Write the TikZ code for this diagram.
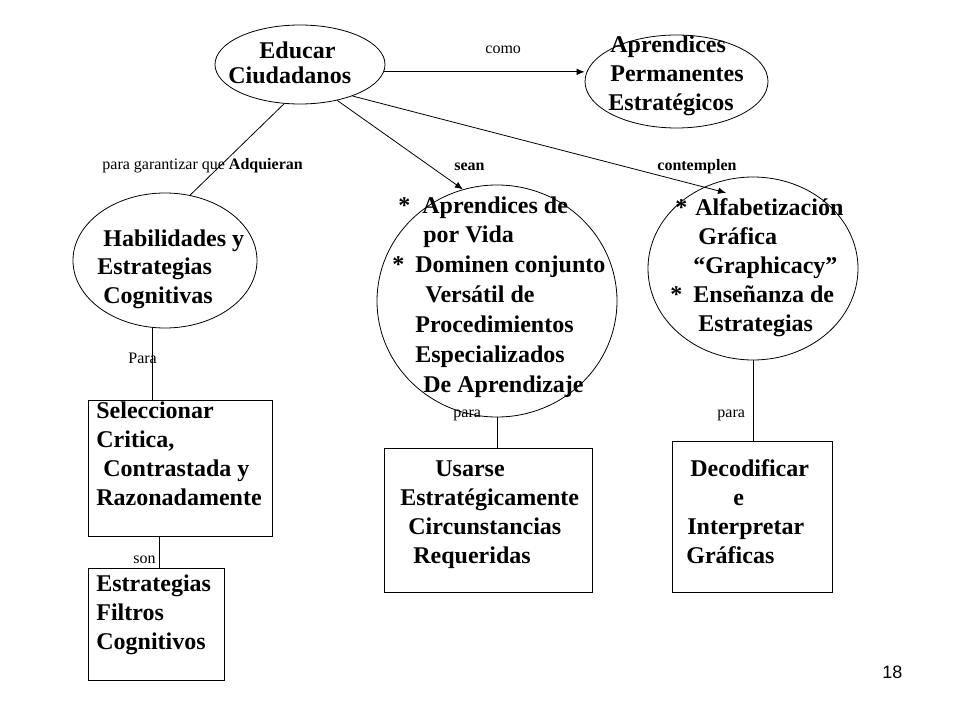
\documentclass[tikz,border=0pt]{standalone}
\usepackage{fontspec}
\setmainfont{Liberation Serif}
\newfontfamily\numfont{Liberation Sans}
\usepackage{tikz}
\usetikzlibrary{shapes.geometric}
\usetikzlibrary{arrows.meta, calc}

\tikzset{
  oval/.style={ellipse,draw,inner sep=0pt,line width=0.6pt},
  box/.style={rectangle,draw,inner sep=0pt,line width=0.6pt},
  txt/.style={font=\bfseries\fontsize{18}{21.75}\selectfont,align=left,anchor=base west,inner sep=0pt},
  lbl/.style={font=\fontsize{12}{14}\selectfont,anchor=base west,inner sep=0pt},
  arr/.style={-{Latex[length=6pt,width=5pt]}}
}

\begin{document}
\begin{tikzpicture}[x=0.75pt,y=-0.75pt,line width=0.6pt]
\useasboundingbox (0,0) rectangle (960,720);

\node[oval,minimum width=127.5pt,minimum height=59.25pt] (edu) at (300,64.5) {};
\node[oval,minimum width=137.25pt,minimum height=69.75pt] (apr) at (676.5,81.5) {};
\node[oval,minimum width=138pt,minimum height=101.25pt] (hab) at (165,260.5) {};
\node[oval,minimum width=180pt,minimum height=174pt] (apv) at (497,301) {};
\node[oval,minimum width=157.5pt,minimum height=137.25pt] (alf) at (753,268.5) {};

\node[box,minimum width=138pt,minimum height=102pt] (sel) at (180,468) {};
\node[box,minimum width=102pt,minimum height=84pt] (fil) at (156,624) {};
\node[box,minimum width=156pt,minimum height=108pt] (use) at (488,520) {};
\node[box,minimum width=120pt,minimum height=113.25pt] (dec) at (752,516.5) {};

% text anchors sit on the last line
\node[txt,font=\bfseries\fontsize{18}{18.75}\selectfont] (tedu) at (228,84) {\hspace*{23.25pt}Educar\\Ciudadanos};
\node[txt] (tapr) at (608,111) {\hspace*{1.5pt}Aprendices\\\hspace*{1.5pt}Permanentes\\Estratégicos};
\node[txt] (thab) at (97,304) {\hspace*{4.5pt}Habilidades y\\Estrategias\\\hspace*{4.5pt}Cognitivas};
\node[txt,font=\bfseries\fontsize{18}{22.35}\selectfont] (tapv) at (392,392) {\hspace*{4.5pt}*\hspace*{9pt}Aprendices de\\
\hspace*{23.25pt}por Vida\\
*\hspace*{8.25pt}Dominen conjunto\\
\hspace*{24.75pt}Versátil de\\
\hspace*{17.25pt}Procedimientos\\
\hspace*{17.25pt}Especializados\\
\hspace*{23.25pt}De Aprendizaje};
\node[txt] (talf) at (670,331) {\hspace*{3.75pt}*\hspace*{6pt}Alfabetización\\
\hspace*{21pt}Gráfica\\
\hspace*{17.25pt}“Graphicacy”\\
*\hspace*{8.25pt}Enseñanza de\\
\hspace*{21pt}Estrategias};
\node[txt] (tsel) at (96,505) {Seleccionar\\Critica,\\\hspace*{5.25pt}Contrastada y\\Razonadamente};
\node[txt] (tfil) at (96,649) {Estrategias\\Filtros\\Cognitivos};
\node[txt] (tuse) at (400,563) {\hspace*{26.25pt}Usarse\\Estratégicamente\\\hspace*{6pt}Circunstancias\\\hspace*{9.75pt}Requeridas};
\node[txt] (tdec) at (686,563) {\hspace*{3pt}Decodificar\\\hspace*{35.25pt}e\\\hspace*{0.75pt}Interpretar\\Gráficas};

\draw[arr] (edu.-5) -- (edu.-5 -| apr.west);
\draw (edu.-112) -- (hab.69);
\draw[arr] (edu.-44) -- (apv.107);
\draw[arr,shorten >=-17pt] (edu.-31) -- (alf.121);
\draw (hab.-101) -- (hab.-101 |- sel.north);
\draw ($(sel.south west)!.39!(sel.south east)$) coordinate (sfoot) -- (sfoot |- fil.north);
\draw (apv.south) -- (apv.south |- use.north);
\draw (alf.south) -- (alf.south |- dec.north);

\node[lbl] (lcomo) at (485,54) {como};
\node[lbl] (lgar) at (102,170) {para garantizar que \textbf{Adquieran}};
\node[lbl,font=\bfseries\fontsize{12}{14}\selectfont] (lsean) at (454,171) {sean};
\node[lbl,font=\bfseries\fontsize{12}{14}\selectfont] (lcont) at (657,171) {contemplen};
\node[lbl] (lpara) at (128,363) {Para};
\node[lbl] (lson) at (133,563) {son};
\node[lbl] (lpuse) at (453,417) {para};
\node[lbl] (lpdec) at (717,417) {para};

\node[anchor=base west,inner sep=0pt,font=\numfont\fontsize{13.5}{16}\selectfont] (page) at (882,678) {18};
\end{tikzpicture}
\end{document}
